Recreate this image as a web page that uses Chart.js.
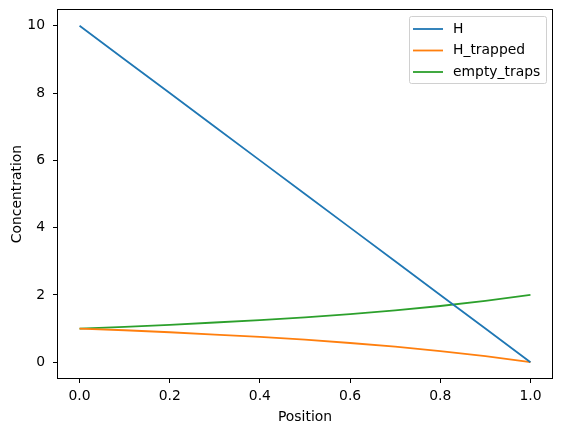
<!DOCTYPE html>
<html>
<head>
<meta charset="utf-8">
<script src="https://cdn.jsdelivr.net/npm/chart.js@4/dist/chart.umd.min.js"></script>
<style>
  html, body { margin: 0; padding: 0; background: #fff; }
  #wrap { width: 563px; height: 432px; }
</style>
</head>
<body>
<div id="wrap"><canvas id="chart"></canvas></div>
<script>
const positions = [0, 0.1, 0.2, 0.3, 0.4, 0.5, 0.6, 0.7, 0.8, 0.9, 1.0];
const hValues = [10, 9, 8, 7, 6, 5, 4, 3, 2, 1, 0];
const hTrapped = [1.0, 0.95, 0.89, 0.82, 0.75, 0.67, 0.57, 0.46, 0.33, 0.18, 0.0];
const emptyTraps = [1.0, 1.05, 1.11, 1.18, 1.25, 1.33, 1.43, 1.54, 1.67, 1.82, 2.0];
const xTicks = [0, 0.2, 0.4, 0.6, 0.8, 1.0];
const yTicks = [0, 2, 4, 6, 8, 10];

const colors = { H: '#1f77b4', H_trapped: '#ff7f0e', empty_traps: '#2ca02c' };
const font = { family: 'DejaVu Sans', size: 13.9 };

const toPoints = (ys) => positions.map((x, i) => ({ x, y: ys[i] }));

// box around the plot plus a matplotlib-style legend
const framePlugin = {
  id: 'frame',
  afterDatasetsDraw(chart) {
    const { ctx, chartArea: a } = chart;
    ctx.save();
    ctx.strokeStyle = '#000';
    ctx.lineWidth = 1;
    ctx.strokeRect(a.left + 0.5, a.top + 0.5, a.right - a.left - 1, a.bottom - a.top - 1);

    const bx = 409, by = 16, bw = 137, bh = 67;
    ctx.fillStyle = 'rgba(255,255,255,0.8)';
    ctx.strokeStyle = '#d0d0d0';
    ctx.beginPath();
    ctx.roundRect(bx + 0.5, by + 0.5, bw, bh, 2);
    ctx.fill();
    ctx.stroke();
    ctx.font = '13.9px DejaVu Sans';
    ctx.textBaseline = 'middle';
    chart.data.datasets.forEach((ds, i) => {
      const y = 29 + i * 21.5;
      ctx.strokeStyle = ds.borderColor;
      ctx.lineWidth = 1.8;
      ctx.beginPath();
      ctx.moveTo(413, y);
      ctx.lineTo(443, y);
      ctx.stroke();
      ctx.fillStyle = '#000';
      ctx.fillText(ds.label, 453, y);
    });
    ctx.restore();
  }
};

new Chart(document.getElementById('chart'), {
  type: 'line',
  data: {
    datasets: [
      { label: 'H', data: toPoints(hValues), borderColor: colors.H },
      { label: 'H_trapped', data: toPoints(hTrapped), borderColor: colors.H_trapped },
      { label: 'empty_traps', data: toPoints(emptyTraps), borderColor: colors.empty_traps }
    ]
  },
  options: {
    responsive: true,
    maintainAspectRatio: false,
    animation: false,
    layout: { padding: { top: 9, right: 10, left: 0, bottom: 0 } },
    elements: {
      point: { radius: 0 },
      line: { borderWidth: 1.8, tension: 0 }
    },
    plugins: {
      legend: { display: false },
      tooltip: { enabled: false }
    },
    scales: {
      x: {
        type: 'linear',
        min: -0.05,
        max: 1.05,
        afterBuildTicks: (axis) => { axis.ticks = xTicks.map(v => ({ value: v })); },
        afterFit: (axis) => { axis.height = 53; axis.paddingLeft = 0; axis.paddingRight = 0; },
        grid: { drawOnChartArea: false, tickLength: 4, color: '#000' },
        border: { display: false },
        ticks: { color: '#000', font, padding: 5, callback: (v) => v.toFixed(1) },
        title: { display: true, text: 'Position', color: '#000', font, padding: { top: 0, bottom: 6 } }
      },
      y: {
        min: -0.5,
        max: 10.5,
        afterBuildTicks: (axis) => { axis.ticks = yTicks.map(v => ({ value: v })); },
        afterFit: (axis) => { axis.width = 57; axis.paddingTop = 0; axis.paddingBottom = 0; },
        grid: { drawOnChartArea: false, tickLength: 4, color: '#000' },
        border: { display: false },
        ticks: { color: '#000', font, padding: 8 },
        title: { display: true, text: 'Concentration', color: '#000', font, padding: { top: 9, bottom: 0 } }
      }
    }
  },
  plugins: [framePlugin]
});
</script>
</body>
</html>
